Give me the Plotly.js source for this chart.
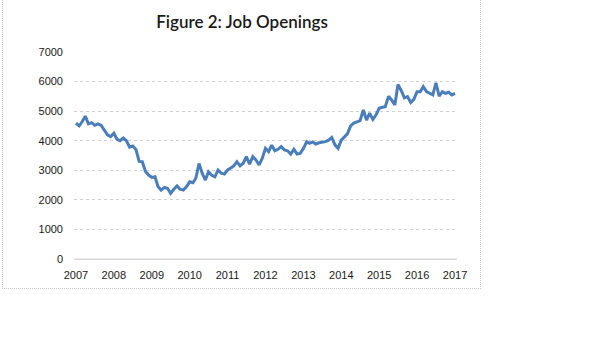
<!DOCTYPE html>
<html>
<head>
<meta charset="utf-8">
<script src="https://cdn.plot.ly/plotly-3.0.1.min.js"></script>
<style>
  html, body { margin: 0; padding: 0; background: #fff; }
  #wrap { position: relative; width: 604px; height: 364px; }
  #frame { position: absolute; left: 2px; top: -2px; width: 479px; height: 291px;
           border: 1px dotted #c6c6c6; box-sizing: border-box; pointer-events: none; }
  #chart { position: absolute; left: 0; top: 0; width: 604px; height: 364px; }
</style>
</head>
<body>
<div id="wrap">
  <div id="chart"></div>
  <div id="frame"></div>
</div>
<script>
// Monthly job openings (thousands), Jan 2007 .. Jan 2017
const startMonth = "2007-01";
const openings = [
  4590, 4500, 4640, 4830, 4570, 4610, 4520, 4570, 4520, 4350, 4200, 4140,
  4250, 4050, 4000, 4090, 4000, 3780, 3820, 3700, 3300, 3290, 2960, 2840,
  2760, 2780, 2450, 2330, 2420, 2390, 2220, 2360, 2470, 2360, 2330, 2440,
  2610, 2580, 2730, 3230, 2900, 2670, 2950, 2830, 2780, 3010, 2900, 2870,
  3010, 3080, 3150, 3290, 3150, 3240, 3460, 3210, 3460, 3350, 3180, 3400,
  3740, 3630, 3850, 3660, 3710, 3800, 3690, 3660, 3550, 3710, 3550, 3570,
  3740, 3960, 3910, 3960, 3890, 3930, 3950, 3970, 4020, 4110, 3860, 3740,
  4020, 4150, 4230, 4500, 4600, 4640, 4680, 5040, 4700, 4930, 4720, 4870,
  5100, 5130, 5150, 5500, 5380, 5210, 5900, 5700, 5450, 5490, 5290, 5400,
  5660, 5660, 5830, 5660, 5600, 5550, 5960, 5510, 5660, 5600, 5640, 5550,
  5600
];
const yTicks = [0, 1000, 2000, 3000, 4000, 5000, 6000, 7000];
const titleText = "Figure 2: Job Openings";

const dates = openings.map((_, i) => {
  const y = 2007 + Math.floor(i / 12);
  const m = (i % 12) + 1;
  return y + "-" + String(m).padStart(2, "0") + "-01";
});

const trace = {
  x: dates, y: openings, type: "scatter", mode: "lines",
  line: { color: "#4a7ebb", width: 3 },
  hoverinfo: "skip"
};

const layout = {
  width: 604, height: 364,
  margin: { l: 74, r: 147, t: 52, b: 105 },
  paper_bgcolor: "rgba(0,0,0,0)", plot_bgcolor: "rgba(0,0,0,0)",
  showlegend: false,
  title: {
    text: titleText,
    font: { family: "Lato, 'Liberation Sans', sans-serif", size: 17, color: "#1a1a1a", weight: 600 },
    x: 242 / 604, xanchor: "center", xref: "container",
    y: 1 - 22 / 364, yanchor: "middle", yref: "container"
  },
  xaxis: {
    type: "date",
    range: ["2006-12-13", "2017-01-20"],
    tick0: "2007-01-01", dtick: "M12", tickformat: "%Y",
    showgrid: false, zeroline: false,
    showline: true, linecolor: "#d9d9d9", linewidth: 1,
    ticks: "", ticklabelstandoff: 6,
    tickfont: { family: "'Liberation Sans', Arial, sans-serif", size: 11, color: "#1a1a1a" }
  },
  yaxis: {
    range: [0, 7000],
    tickvals: yTicks, ticktext: yTicks.map(String),
    showgrid: true, gridcolor: "#d0d0d0", gridwidth: 1, griddash: "dot",
    zeroline: false, showline: false, ticks: "", ticklabelstandoff: 10,
    tickfont: { family: "'Liberation Sans', Arial, sans-serif", size: 11, color: "#1a1a1a" }
  },
  shapes: [{
    type: "line", xref: "paper", yref: "y", x0: 0, x1: 1, y0: 0, y1: 0,
    line: { color: "#d9d9d9", width: 1 }
  }]
};

Plotly.newPlot("chart", [trace], layout, { staticPlot: true, displayModeBar: false });
</script>
</body>
</html>
